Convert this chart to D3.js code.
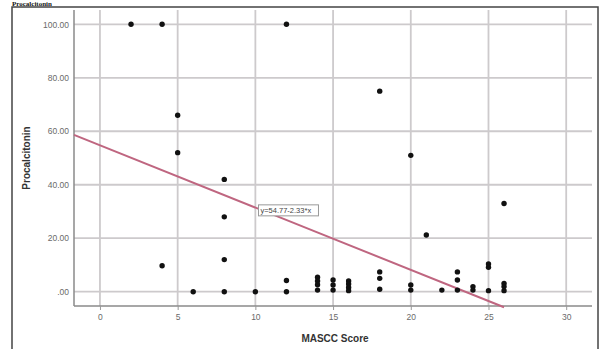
<!DOCTYPE html>
<html><head><meta charset="utf-8">
<script src="https://cdn.jsdelivr.net/npm/d3@7"></script>
<style>body{margin:0;background:#fff}svg{display:block}</style>
</head><body>
<script>
const masccScore = [2,4,12, 5,5, 8,8,8,8, 4, 6,10,12,12, 18,20,21,26, 25,25,25,
  14,14,14,14, 15,15,15, 16,16,16,16, 18,18,18, 20,20, 22, 23,23,23, 24,24, 26,26,26];
const procalcitonin = [100,100,100, 66,52, 42,28,12,0, 9.7, 0,0,4.2,0, 75,51,21.2,33, 10.4,9.1,0.4,
  5.4,4,2.6,0.6, 4.4,2.5,0.6, 4,2.9,1.6,0.4, 7.4,5,0.9, 2.5,0.6, 0.6, 7.4,4.4,0.6, 1.9,0.6, 3.1,1.9,0.4];
const xTicks = [0,5,10,15,20,25,30];
const yTicks = [0,20,40,60,80,100];
const yTickLabels = [".00","20.00","40.00","60.00","80.00","100.00"];
const fitIntercept = 54.77, fitSlope = -2.33;
const fitLabel = "y=54.77-2.33*x";
const xLabel = "MASCC Score", yLabel = "Procalcitonin";
const captionText = "Procalcitonin";

const W = 604, H = 349;
const svg = d3.select("body").append("svg").attr("width", W).attr("height", H);
const x = d3.scaleLinear().domain([-1.67, 31.66]).range([74, 592]);
const y = d3.scaleLinear().domain([-5.35, 105.35]).range([306, 10]);

// caption fragment at top
svg.append("text").attr("x", 12).attr("y", 6).attr("font-family", "Liberation Serif, serif")
  .attr("font-weight", "bold").attr("font-size", 7).attr("fill", "#111").text(captionText);

// outer frame
svg.append("rect").attr("x", 12).attr("y", 7).attr("width", 586).attr("height", 360)
  .attr("fill", "#fff").attr("stroke", "#444").attr("stroke-width", 1.5);

// gridlines
const g = svg.append("g");
g.selectAll(".vg").data(xTicks).join("line")
  .attr("x1", d => x(d)).attr("x2", d => x(d)).attr("y1", 10).attr("y2", 306)
  .attr("stroke", "#cdcacc").attr("stroke-width", 1.8);
g.selectAll(".hg").data(yTicks).join("line")
  .attr("x1", 74).attr("x2", 592).attr("y1", d => y(d)).attr("y2", d => y(d))
  .attr("stroke", "#cdcacc").attr("stroke-width", 1.8);

// axes
const xAxis = d3.axisBottom(x).tickValues(xTicks).tickSize(4).tickPadding(4).tickFormat(d3.format("d"));
const yAxis = d3.axisLeft(y).tickValues(yTicks).tickSize(4).tickPadding(1)
  .tickFormat((d, i) => yTickLabels[i]);
const gx = svg.append("g").attr("transform", "translate(0,306)").call(xAxis);
const gy = svg.append("g").attr("transform", "translate(74,0)").call(yAxis);
[gx, gy].forEach(a => {
  a.select(".domain").attr("stroke", "#8a8a8a").attr("stroke-width", 1.5);
  a.selectAll(".tick line").attr("stroke", "#9a9a9a");
  a.selectAll(".tick text").attr("fill", "#6a6a6a").attr("font-size", 8.5)
    .attr("font-family", "Liberation Sans, Arial, sans-serif");
});
gy.select(".domain").attr("d", "M0,10V306");
gx.select(".domain").attr("d", "M74,0H592");
gy.selectAll(".tick line").attr("stroke", "none");

// fit line
const fitX = [x.domain()[0], 26];
svg.append("line")
  .attr("x1", x(fitX[0])).attr("y1", y(fitIntercept + fitSlope * fitX[0]))
  .attr("x2", x(fitX[1])).attr("y2", y(fitIntercept + fitSlope * fitX[1]))
  .attr("stroke", "#bf6680").attr("stroke-width", 2);

// points
svg.selectAll(".pt").data(masccScore.map((d, i) => [d, procalcitonin[i]])).join("circle")
  .attr("cx", d => x(d[0])).attr("cy", d => y(d[1])).attr("r", 2.7).attr("fill", "#111");

// fit label
const lx = x(10.2), ly = y(29.3);
svg.append("rect").attr("x", lx).attr("y", ly - 8.5).attr("width", 60).attr("height", 11)
  .attr("fill", "#fff").attr("stroke", "#999").attr("stroke-width", 1);
svg.append("text").attr("x", lx + 2).attr("y", ly - 0.3).attr("font-size", 7.5)
  .attr("font-family", "Liberation Sans, Arial, sans-serif").attr("fill", "#444").text(fitLabel);

// axis titles
svg.append("text").attr("x", 335).attr("y", 342).attr("text-anchor", "middle")
  .attr("font-family", "Liberation Sans, Arial, sans-serif").attr("font-weight", "bold")
  .attr("font-size", 10).attr("fill", "#333").text(xLabel);
svg.append("text").attr("transform", "translate(30,158) rotate(-90)").attr("text-anchor", "middle")
  .attr("font-family", "Liberation Sans, Arial, sans-serif").attr("font-weight", "bold")
  .attr("font-size", 10).attr("fill", "#333").text(yLabel);
</script>
</body></html>
